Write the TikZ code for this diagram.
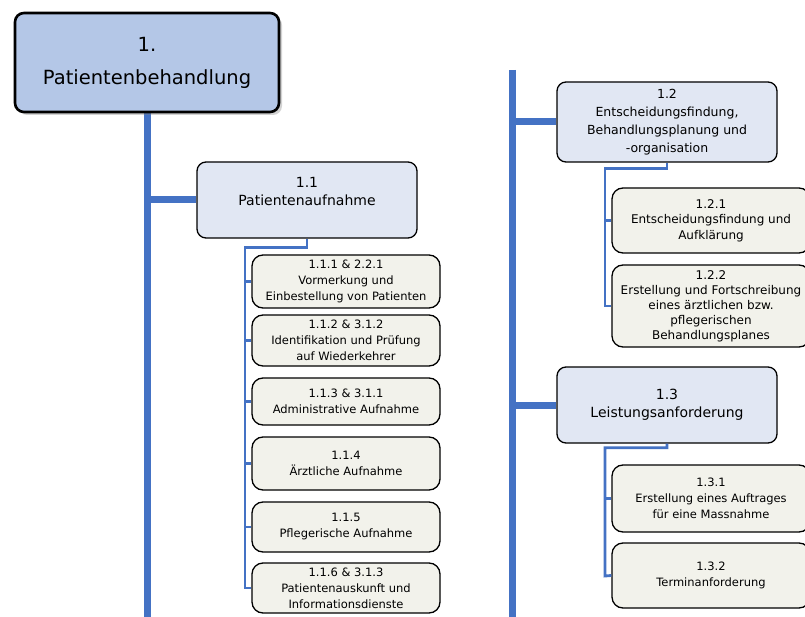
\documentclass[tikz,border=0pt]{standalone}
\usepackage{fontspec}
\setmainfont{DejaVu Sans}
\usetikzlibrary{shadows}
\definecolor{lineblue}{HTML}{4472C4}
\definecolor{rootfill}{HTML}{B4C7E7}
\definecolor{midfill}{HTML}{E1E7F3}
\definecolor{leaffill}{HTML}{F2F2EB}
\tikzset{
  rootbox/.style={draw=black, line width=2.6pt, fill=rootfill, rounded corners=9pt,
    minimum width=264pt, minimum height=99pt, inner sep=0pt, align=center,
    font=\fontsize{19.5}{33}\selectfont,
    drop shadow={opacity=0.35, shadow xshift=3pt, shadow yshift=-3pt}},
  midbox/.style={draw=black, line width=1.3pt, fill=midfill, rounded corners=9pt,
    minimum width=220pt, inner sep=0pt, align=center,
    font=\fontsize{14}{18}\selectfont},
  leafbox/.style={draw=black, line width=1.3pt, fill=leaffill, rounded corners=11pt,
    inner sep=0pt, align=center, font=\fontsize{11.5}{16}\selectfont},
  mainline/.style={draw=lineblue, line width=7pt},
  subline/.style={draw=lineblue, line width=2.8pt},
}
\begin{document}
\begin{tikzpicture}[x=1pt, y=-1pt]
\useasboundingbox (0,0) rectangle (805,617);
\clip (0,0) rectangle (805,617);
\fill[white] (0,0) rectangle (805,617);

% free ends
\coordinate (lbot) at (147,625);
\coordinate (rtop) at (512,70);
\coordinate (rbot) at (512,625);

% main lines (behind boxes)
\draw[mainline] (147,100) -- (lbot);
\draw[mainline] (rtop) -- (rbot);

% root
\node[rootbox] (root) at (147,62.5) {1.\\Patientenbehandlung};

% level 2
\node[midbox, minimum height=76pt] (n11) at (307,200) {1.1\\Patientenaufnahme\\\mbox{}};
\node[midbox, minimum height=80pt, font=\fontsize{12.5}{18}\selectfont] (n12) at (667,122) {1.2\\Entscheidungsfindung,\\Behandlungsplanung und\\-organisation};
\node[midbox, minimum height=76pt] (n13) at (667,405) {1.3\\Leistungsanforderung};

% level 3 left
\node[leafbox, minimum width=188pt, minimum height=53pt] (n111) at (346,281.5) {1.1.1 \& 2.2.1\\Vormerkung und\\Einbestellung von Patienten};
\node[leafbox, minimum width=188pt, minimum height=51pt] (n112) at (346,340.5) {1.1.2 \& 3.1.2\\Identifikation und Prüfung\\auf Wiederkehrer};
\node[leafbox, minimum width=188pt, minimum height=47pt] (n113) at (346,401.5) {1.1.3 \& 3.1.1\\Administrative Aufnahme};
\node[leafbox, minimum width=188pt, minimum height=53pt] (n114) at (346,463.5) {1.1.4\\Ärztliche Aufnahme};
\node[leafbox, minimum width=188pt, minimum height=50pt] (n115) at (346,527) {1.1.5\\Pflegerische Aufnahme};
\node[leafbox, minimum width=188pt, minimum height=50pt] (n116) at (346,588) {1.1.6 \& 3.1.3\\Patientenauskunft und\\Informationsdienste};

% level 3 right
\node[leafbox, minimum width=198pt, minimum height=65pt, font=\fontsize{12}{15.5}\selectfont] (n121) at (711,220.5) {1.2.1\\Entscheidungsfindung und\\Aufklärung};
\node[leafbox, minimum width=198pt, minimum height=82pt, font=\fontsize{12}{15}\selectfont] (n122) at (711,306) {1.2.2\\Erstellung und Fortschreibung\\eines ärztlichen bzw.\\pflegerischen\\Behandlungsplanes};
\node[leafbox, minimum width=198pt, minimum height=67pt] (n131) at (711,498.5) {1.3.1\\Erstellung eines Auftrages\\für eine Massnahme};
\node[leafbox, minimum width=198pt, minimum height=65pt] (n132) at (711,575.5) {1.3.2\\Terminanforderung};

% branches from main lines
\draw[mainline] (root.south |- n11.west) -- (n11.west);
\draw[mainline] (rtop |- n12.west) -- (n12.west);
\draw[mainline] (rtop |- n13.west) -- (n13.west);

% sub trees
\draw[subline] (n11.south) -- ++(0,9) -| (245,588) -- (n116.west);
\foreach \n in {n111,n112,n113,n114,n115}
  \draw[subline] (245,0 |- \n.west) -- (\n.west);
\draw[subline] (n12.south) -- ++(0,6) -| (605,306) -- (n122.west);
\draw[subline] (605,0 |- n121.west) -- (n121.west);
\draw[subline] (n13.south) -- ++(0,4) -| (605,576) -- (n132.west);
\draw[subline] (605,0 |- n131.west) -- (n131.west);
\end{tikzpicture}
\end{document}
